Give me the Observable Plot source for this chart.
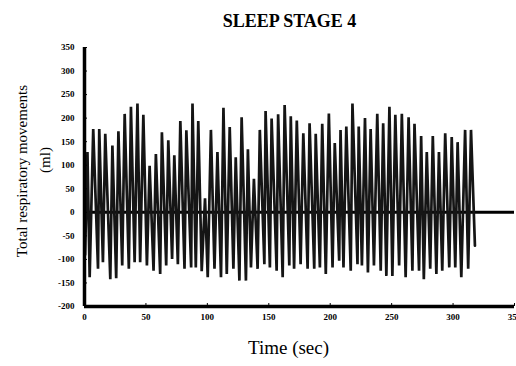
<!DOCTYPE html>
<html>
<head>
<meta charset="utf-8">
<script src="https://cdn.jsdelivr.net/npm/d3@7"></script>
<script src="https://cdn.jsdelivr.net/npm/@observablehq/plot@0.6"></script>
<style>
  html, body { margin: 0; padding: 0; background: white; }
  #chart { width: 516px; height: 366px; overflow: hidden; }
</style>
</head>
<body>
<div id="chart"></div>
<script>
const title = "SLEEP STAGE 4";
const yLabel = "Total respiratory movements";
const yUnit = "(ml)";
const xLabel = "Time (sec)";
const xTicks = [0, 50, 100, 150, 200, 250, 300, 350];
const yTicks = [-200, -150, -100, -50, 0, 50, 100, 150, 200, 250, 300, 350];
const baseline = [0];

const startTime = 0.5;
const startValue = -90;

const peakTime = [2.4, 7.1, 12.0, 16.9, 22.7, 27.6, 32.7, 37.8, 43.1, 47.9,
  53.0, 58.1, 63.0, 68.2, 73.1, 78.0, 82.9, 87.9, 92.6, 98.1,
  102.9, 108.2, 113.1, 118.2, 123.1, 127.9, 133.0, 137.9, 142.7, 147.4,
  152.3, 157.6, 162.9, 167.9, 172.8, 178.1, 183.2, 188.2, 193.5, 198.9,
  203.7, 208.4, 213.1, 218.1, 223.2, 228.3, 232.9, 238.3, 243.1, 248.2,
  253.0, 258.3, 263.8, 268.6, 274.0, 278.6, 283.5, 288.5, 293.6, 298.9,
  303.7, 309.8, 314.6];
const peakValue = [128, 177, 177, 167, 142, 172, 209, 224, 231, 207,
  99, 124, 170, 153, 121, 194, 174, 231, 194, 30,
  175, 128, 222, 181, 117, 202, 134, 71, 175, 215,
  199, 208, 228, 204, 195, 168, 189, 167, 188, 210,
  147, 175, 182, 231, 182, 200, 177, 209, 189, 224,
  207, 209, 202, 188, 162, 128, 162, 128, 168, 160,
  149, 175, 175];
const troughTime = [4.2, 11.0, 15.0, 21.0, 25.8, 30.7, 36.1, 40.8, 45.3, 50.8,
  56.2, 61.6, 66.5, 71.3, 76.0, 81.4, 86.8, 90.6, 95.4, 100.3,
  105.8, 111.1, 115.8, 121.2, 126.1, 131.4, 135.5, 140.9, 146.4, 150.9,
  156.4, 161.3, 166.7, 170.6, 175.9, 181.6, 187.0, 191.6, 196.4, 201.9,
  207.3, 210.8, 216.7, 222.2, 225.8, 230.7, 235.6, 241.1, 245.7, 250.6,
  256.1, 261.4, 266.9, 272.3, 276.2, 281.4, 286.4, 291.2, 296.9, 301.8,
  306.7, 312.3, 317.8];
const troughValue = [-138, -120, -106, -142, -140, -113, -120, -106, -106, -113,
  -124, -131, -113, -99, -110, -120, -117, -117, -125, -138,
  -120, -138, -131, -120, -145, -145, -117, -120, -110, -117,
  -124, -138, -113, -120, -110, -120, -120, -117, -131, -117,
  -103, -117, -124, -110, -113, -128, -113, -124, -135, -135,
  -113, -138, -124, -124, -142, -120, -131, -124, -117, -117,
  -138, -120, -71];

const series = [{t: startTime, v: startValue}];
for (let i = 0; i < peakTime.length; i++) {
  series.push({t: peakTime[i], v: peakValue[i]});
  series.push({t: troughTime[i], v: troughValue[i]});
}

const chart = Plot.plot({
  width: 516,
  height: 366,
  marginLeft: 84,
  marginRight: 2,
  marginTop: 47,
  marginBottom: 60,
  x: {domain: [0, 350]},
  y: {domain: [-200, 350]},
  style: {fontFamily: "'Liberation Serif', 'Times New Roman', serif", background: "white", color: "black"},
  marks: [
    Plot.ruleY(baseline, {stroke: "black", strokeWidth: 3}),
    Plot.line(series, {x: "t", y: "v", stroke: "#151515", strokeWidth: 2.7, strokeLinejoin: "miter"}),
    Plot.ruleX([xTicks[0]], {stroke: "black", strokeWidth: 3.5}),
    Plot.ruleY([yTicks[0]], {stroke: "black", strokeWidth: 3.5}),
    Plot.axisY({ticks: yTicks, tickSize: -3, tickPadding: 13, fontSize: 9, fontWeight: "bold", label: null, tickFormat: d => String(d)}),
    Plot.axisX({ticks: xTicks, tickSize: -3, tickPadding: 10, fontSize: 9, fontWeight: "bold", label: null, tickFormat: d => String(d)}),
    Plot.text([title], {frameAnchor: "top", textAnchor: "middle", dy: -33, dx: -10, fontSize: 18, fontWeight: "bold"}),
    Plot.text([yLabel], {frameAnchor: "left", textAnchor: "middle", lineAnchor: "middle", rotate: -90, dx: -62, dy: -6, fontSize: 15}),
    Plot.text([yUnit], {frameAnchor: "left", textAnchor: "middle", lineAnchor: "middle", rotate: -90, dx: -39, dy: -17, fontSize: 15}),
    Plot.text([xLabel], {frameAnchor: "bottom", textAnchor: "middle", dy: 47, dx: -11, fontSize: 19})
  ]
});
document.getElementById("chart").appendChild(chart);
</script>
</body>
</html>
